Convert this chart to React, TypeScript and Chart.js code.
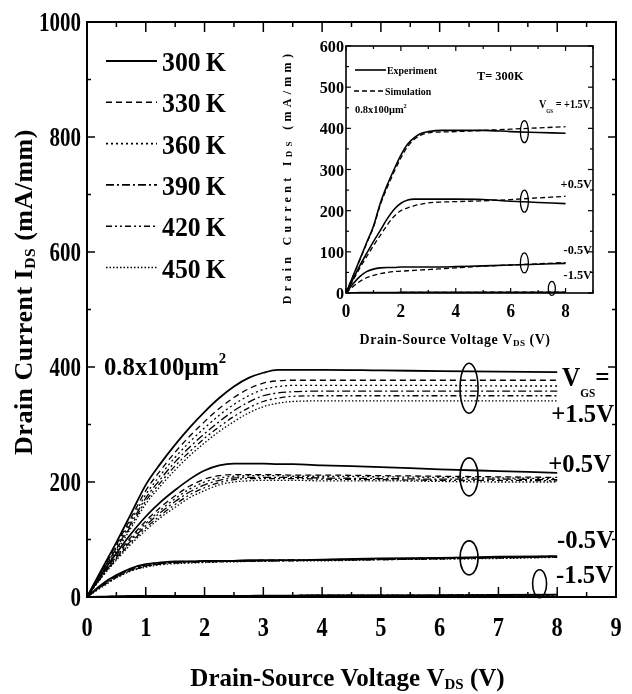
import React, { useEffect, useRef } from 'react';
import { Chart, registerables } from 'chart.js';
Chart.register(...registerables);

// ---------- data: main chart ----------
const VDS = [0, 0.25, 0.5, 0.75, 1, 1.25, 1.5, 1.75, 2, 2.25, 2.5, 2.75, 3, 3.25, 3.5, 4, 5, 6, 7, 8];
const TEMPS = ['300', '330', '360', '390', '420', '450'];
const VGS_LABELS = ['+1.5V', '+0.5V', '-0.5V', '-1.5V'];

const ID_P15 = [
  [0, 48, 95, 145, 195, 232, 265, 295, 322, 346, 366, 381, 390, 395, 395, 395, 394, 393, 392, 391],
  [0, 46, 91, 138, 185, 220, 252, 280, 305, 328, 347, 362, 372, 376, 377, 377, 377, 377, 377, 377],
  [0, 45, 88, 133, 178, 212, 243, 270, 294, 316, 335, 350, 361, 366, 368, 368, 368, 368, 367, 367],
  [0, 44, 85, 128, 172, 205, 235, 261, 284, 305, 324, 339, 350, 355, 357, 358, 358, 358, 358, 358],
  [0, 43, 83, 124, 167, 199, 228, 253, 276, 296, 314, 329, 340, 346, 349, 350, 350, 350, 350, 350],
  [0, 42, 80, 120, 162, 193, 221, 246, 268, 288, 305, 320, 331, 337, 340, 341, 341, 341, 341, 341],
];
const ID_P05 = [
  [0, 40, 76, 110, 140, 165, 186, 205, 220, 229, 232, 232, 232, 231, 231, 229, 226, 222, 219, 216],
  [0, 38, 72, 104, 132, 156, 176, 193, 205, 211, 213, 213, 213, 213, 212, 212, 211, 210, 209, 208],
  [0, 37, 70, 101, 128, 151, 171, 188, 200, 207, 210, 211, 211, 211, 210, 210, 209, 208, 207, 206],
  [0, 36, 68, 98, 124, 147, 166, 183, 195, 203, 207, 208, 208, 208, 208, 207, 206, 205, 205, 204],
  [0, 35, 66, 95, 120, 142, 161, 178, 190, 199, 204, 206, 206, 206, 206, 205, 204, 203, 203, 202],
  [0, 34, 64, 92, 116, 138, 156, 173, 185, 195, 200, 202, 203, 203, 203, 202, 202, 201, 200, 200],
];
const ID_M05 = [
  [0, 22, 38, 50, 57, 60, 62, 62, 63, 63, 63, 64, 64, 64, 64, 65, 67, 68, 70, 71],
  [0, 21, 37, 49, 56, 59, 61, 62, 62, 63, 63, 63, 64, 64, 64, 65, 66, 68, 69, 71],
  [0, 20, 36, 48, 55, 58, 60, 61, 62, 62, 63, 63, 63, 64, 64, 64, 66, 67, 69, 70],
  [0, 19, 35, 47, 54, 58, 60, 61, 61, 62, 62, 63, 63, 63, 64, 64, 65, 67, 68, 70],
  [0, 18, 34, 46, 53, 57, 59, 60, 61, 61, 62, 62, 63, 63, 63, 64, 65, 66, 68, 69],
  [0, 17, 33, 45, 52, 56, 58, 59, 60, 61, 61, 62, 62, 63, 63, 63, 65, 66, 67, 69],
];
const ID_M15 = [
  [0, 0.5, 1, 1.5, 2, 2, 2, 2, 2, 2, 2, 2, 2.5, 2.5, 2.5, 3, 3, 3, 3.5, 4],
  [0, 0.5, 1, 1.5, 2, 2, 2, 2, 2, 2, 2, 2, 2.5, 2.5, 2.5, 3, 3, 3, 3.5, 4],
  [0, 0.5, 1, 1.5, 2, 2, 2, 2, 2, 2, 2, 2, 2.5, 2.5, 2.5, 3, 3, 3, 3.5, 4],
  [0, 0.5, 1, 1.5, 2, 2, 2, 2, 2, 2, 2, 2, 2.5, 2.5, 2.5, 3, 3, 3, 3.5, 4],
  [0, 0.5, 1, 1.5, 2, 2, 2, 2, 2, 2, 2, 2, 2.5, 2.5, 2.5, 3, 3, 3, 3.5, 4],
  [0, 0.5, 1, 1.5, 2, 2, 2, 2, 2, 2, 2, 2, 2.5, 2.5, 2.5, 3, 3, 3, 3.5, 4],
];
const X_TICKS = [0, 1, 2, 3, 4, 5, 6, 7, 8, 9];
const Y_TICKS = [0, 200, 400, 600, 800, 1000];

// ---------- data: inset ----------
const IN_VDS = [0, 0.25, 0.5, 0.75, 1, 1.25, 1.5, 1.75, 2, 2.25, 2.5, 2.75, 3, 3.5, 4, 5, 6, 7, 8];
const EXP_P15 = [0, 40, 81, 122, 162, 218, 262, 300, 335, 362, 378, 388, 392, 395, 395, 395, 392, 390, 388];
const SIM_P15 = [0, 40, 80, 120, 160, 214, 256, 294, 328, 356, 374, 384, 389, 391, 392, 395, 398, 401, 404];
const EXP_P05 = [0, 33, 66, 96, 125, 152, 180, 203, 218, 226, 228, 228, 228, 228, 228, 227, 223, 220, 217];
const SIM_P05 = [0, 30, 60, 88, 115, 140, 165, 186, 200, 207, 212, 216, 219, 221, 222, 224, 227, 231, 235];
const EXP_M05 = [0, 22, 40, 52, 58, 61, 62, 62, 63, 63, 63, 63, 63, 63, 64, 66, 68, 70, 72];
const SIM_M05 = [0, 15, 28, 37, 43, 47, 50, 52, 53, 54, 55, 56, 57, 59, 61, 65, 68, 71, 74];
const EXP_M15 = [0, 0.5, 1, 1, 1, 1, 1, 1, 1.5, 1.5, 1.5, 1.5, 1.5, 1.5, 1.5, 2, 2, 2, 2];
const SIM_M15 = [0, 0.3, 0.6, 0.8, 1, 1, 1, 1, 1.2, 1.2, 1.2, 1.2, 1.5, 1.5, 1.5, 1.8, 2, 2, 2.2];
const IN_X_TICKS = [0, 2, 4, 6, 8];
const IN_Y_TICKS = [0, 100, 200, 300, 400, 500, 600];

// ---------- styles ----------
const FAMILY = '"Liberation Serif", "Times New Roman", serif';
const DASHES = [[], [6, 4], [2, 3], [8, 3, 2, 3], [6, 3, 2, 3, 2, 3], [1.5, 2]];
const WIDTHS = [1.8, 1.3, 1.3, 1.3, 1.3, 1.3];

type Seg = { t: string; sub?: boolean; sup?: boolean };
type RichOpts = { align?: 'left' | 'center' | 'right'; sx?: number; rot?: number; ls?: number; subK?: number; subDy?: number };

function drawRich(ctx: CanvasRenderingContext2D, segs: Seg[], x: number, y: number, size: number, o: RichOpts = {}) {
  const sx = o.sx ?? 1;
  const ls = o.ls ?? 0;
  const subK = o.subK ?? 0.6;
  const subDy = o.subDy ?? 0.3;
  ctx.save();
  ctx.translate(x, y);
  if (o.rot) ctx.rotate(o.rot);
  ctx.scale(sx, 1);
  (ctx as any).letterSpacing = `${ls}px`;
  const fontFor = (s: Seg) => `bold ${s.sub || s.sup ? size * subK : size}px ${FAMILY}`;
  const widths = segs.map((s) => {
    ctx.font = fontFor(s);
    return ctx.measureText(s.t).width;
  });
  const total = widths.reduce((a, b) => a + b, 0);
  let cx = o.align === 'center' ? -total / 2 : o.align === 'right' ? -total : 0;
  ctx.textBaseline = 'alphabetic';
  ctx.textAlign = 'left';
  ctx.fillStyle = '#000';
  segs.forEach((s, i) => {
    ctx.font = fontFor(s);
    const dy = s.sub ? size * subDy : s.sup ? -size * 0.45 : 0;
    ctx.fillText(s.t, cx, dy);
    cx += widths[i];
  });
  (ctx as any).letterSpacing = '0px';
  ctx.restore();
}

function seg(ctx: CanvasRenderingContext2D, x1: number, y1: number, x2: number, y2: number) {
  ctx.beginPath();
  ctx.moveTo(x1, y1);
  ctx.lineTo(x2, y2);
  ctx.stroke();
}

const mainDecor = {
  id: 'mainDecor',
  afterDraw(chart: any) {
    const { ctx, chartArea: a, scales } = chart;
    const xs = scales.x, ys = scales.y;
    ctx.save();
    ctx.strokeStyle = '#000';
    ctx.setLineDash([]);
    ctx.lineWidth = 2;
    ctx.strokeRect(a.left, a.top, a.right - a.left, a.bottom - a.top);
    ctx.lineWidth = 1.5;
    for (let v = 0; v <= 9.001; v += 0.5) {
      const px = xs.getPixelForValue(v);
      const L = Math.abs(v - Math.round(v)) < 1e-6 ? 10 : 5;
      seg(ctx, px, a.bottom, px, a.bottom - L);
      seg(ctx, px, a.top, px, a.top + L);
    }
    for (let v = 0; v <= 1000; v += 100) {
      const py = ys.getPixelForValue(v);
      const L = v % 200 === 0 ? 8 : 4;
      seg(ctx, a.left, py, a.left + L, py);
      seg(ctx, a.right, py, a.right - L, py);
    }
    // tick labels
    X_TICKS.forEach((v) => drawRich(ctx, [{ t: String(v) }], xs.getPixelForValue(v), a.bottom + 39, 28, { align: 'center', sx: 0.8 }));
    Y_TICKS.forEach((v) => drawRich(ctx, [{ t: String(v) }], a.left - 6, ys.getPixelForValue(v) + 9, 28, { align: 'right', sx: 0.75 }));

    // legend
    TEMPS.forEach((t, i) => {
      const ly = 61 + i * 41.3;
      ctx.lineWidth = WIDTHS[i] + 0.3;
      ctx.setLineDash(DASHES[i]);
      seg(ctx, 106, ly, 157, ly);
      ctx.setLineDash([]);
      drawRich(ctx, [{ t: t + '\u2009K' }], 162, ly + 10, 28, { sx: 0.92 });
    });

    drawRich(ctx, [{ t: '0.8x100\u03bcm' }, { t: '2', sup: true }], 104, 375, 26, { sx: 0.95 });

    // VGS labels
    drawRich(ctx, [{ t: 'V' }, { t: 'GS', sub: true }, { t: '=' }], 562, 386, 28, { sx: 0.9, subK: 0.45, subDy: 0.4 });
    const right = a.right - 2;
    drawRich(ctx, [{ t: VGS_LABELS[0] }], right, 422, 26, { align: 'right', sx: 0.95 });
    drawRich(ctx, [{ t: VGS_LABELS[1] }], right - 3, 472, 26, { align: 'right', sx: 0.95 });
    drawRich(ctx, [{ t: VGS_LABELS[2] }], right, 548, 26, { align: 'right', sx: 0.95 });
    drawRich(ctx, [{ t: VGS_LABELS[3] }], right - 1, 583, 26, { align: 'right', sx: 0.95 });

    // ellipses
    ctx.lineWidth = 1.6;
    const ells = [
      [6.5, 363, 9, 25],
      [6.5, 209, 9, 19],
      [6.5, 68, 9, 17],
      [7.7, 23, 7, 14],
    ];
    ells.forEach(([ex, ey, rx, ry]) => {
      ctx.beginPath();
      ctx.ellipse(xs.getPixelForValue(ex), ys.getPixelForValue(ey), rx, ry, 0, 0, Math.PI * 2);
      ctx.stroke();
    });

    // axis titles
    drawRich(ctx, [{ t: 'Drain-Source Voltage V' }, { t: 'DS', sub: true }, { t: ' (V)' }], (a.left + a.right) / 2 - 4, 686, 25, { align: 'center', subK: 0.6, subDy: 0.12 });
    drawRich(ctx, [{ t: 'Drain Current I' }, { t: 'DS', sub: true }, { t: ' (mA/mm)' }], 32, 292, 26, { align: 'center', rot: -Math.PI / 2, ls: 0.5, subK: 0.6, subDy: 0.12 });
    ctx.restore();
  },
};

const insetDecor = {
  id: 'insetDecor',
  afterDraw(chart: any) {
    const { ctx, chartArea: a, scales } = chart;
    const xs = scales.x, ys = scales.y;
    ctx.save();
    ctx.strokeStyle = '#000';
    ctx.setLineDash([]);
    ctx.lineWidth = 1.6;
    ctx.strokeRect(a.left, a.top, a.right - a.left, a.bottom - a.top);
    ctx.lineWidth = 1.2;
    for (let v = 0; v <= 9; v += 1) {
      const px = xs.getPixelForValue(v);
      const L = v % 2 === 0 ? 5 : 3;
      seg(ctx, px, a.bottom, px, a.bottom - L);
      seg(ctx, px, a.top, px, a.top + L);
    }
    for (let v = 0; v <= 600; v += 50) {
      const py = ys.getPixelForValue(v);
      const L = v % 100 === 0 ? 5 : 3;
      seg(ctx, a.left, py, a.left + L, py);
      seg(ctx, a.right, py, a.right - L, py);
    }
    IN_X_TICKS.forEach((v) => drawRich(ctx, [{ t: String(v) }], xs.getPixelForValue(v), a.bottom + 24, 18, { align: 'center', sx: 0.95 }));
    IN_Y_TICKS.forEach((v) => drawRich(ctx, [{ t: String(v) }], a.left - 2, ys.getPixelForValue(v) + 6, 17, { align: 'right', sx: 0.95 }));

    // legend
    const ox = 278, oy = 36;
    ctx.lineWidth = 1.6;
    seg(ctx, 355 - ox, 70 - oy, 386 - ox, 70 - oy);
    ctx.setLineDash([5, 3]);
    ctx.lineWidth = 1.3;
    seg(ctx, 354 - ox, 91 - oy, 384 - ox, 91 - oy);
    ctx.setLineDash([]);
    drawRich(ctx, [{ t: 'Experiment' }], 387 - ox, 74 - oy, 11, { sx: 0.9 });
    drawRich(ctx, [{ t: 'Simulation' }], 385 - ox, 95 - oy, 11, { sx: 0.9 });
    drawRich(ctx, [{ t: '0.8x100\u03bcm' }, { t: '2', sup: true }], 355 - ox, 113 - oy, 11, { sx: 0.95 });
    drawRich(ctx, [{ t: 'T= 300K' }], 477 - ox, 80 - oy, 13, { sx: 0.95 });
    drawRich(ctx, [{ t: 'V' }, { t: 'GS', sub: true }, { t: ' = ' + VGS_LABELS[0] }], 539 - ox, 108 - oy, 12, { sx: 0.85, subK: 0.5, subDy: 0.4 });
    drawRich(ctx, [{ t: VGS_LABELS[1] }], 592 - ox, 188 - oy, 13, { align: 'right', sx: 0.95 });
    drawRich(ctx, [{ t: VGS_LABELS[2] }], 592 - ox, 254 - oy, 13, { align: 'right', sx: 0.95 });
    drawRich(ctx, [{ t: VGS_LABELS[3] }], 592 - ox, 279 - oy, 13, { align: 'right', sx: 0.95 });

    ctx.lineWidth = 1.3;
    const ells = [
      [6.5, 392, 4, 11],
      [6.5, 223, 4, 11],
      [6.5, 73, 4, 10],
      [7.5, 11, 3.5, 7],
    ];
    ells.forEach(([ex, ey, rx, ry]) => {
      ctx.beginPath();
      ctx.ellipse(xs.getPixelForValue(ex), ys.getPixelForValue(ey), rx, ry, 0, 0, Math.PI * 2);
      ctx.stroke();
    });

    drawRich(ctx, [{ t: 'Drain-Source Voltage V' }, { t: 'DS', sub: true }, { t: ' (V)' }], 455 - ox, 344 - oy, 14, { align: 'center', ls: 0.5, subK: 0.65, subDy: 0.12 });
    drawRich(ctx, [{ t: 'Drain Current I' }, { t: 'DS', sub: true }, { t: ' (mA/mm)' }], 291 - ox, 177 - oy, 12, { align: 'center', rot: -Math.PI / 2, ls: 4.3, subK: 0.75, subDy: 0.1 });
    ctx.restore();
  },
};

function pts(xsArr: number[], ysArr: number[]) {
  return xsArr.map((x, i) => ({ x, y: ysArr[i] }));
}

export default function App() {
  const mainRef = useRef<HTMLCanvasElement>(null);
  const insetRef = useRef<HTMLCanvasElement>(null);

  useEffect(() => {
    const groups = [ID_P15, ID_P05, ID_M05, ID_M15];
    const mainSets: any[] = [];
    groups.forEach((g) => {
      g.forEach((vals, ti) => {
        mainSets.push({
          label: TEMPS[ti] + 'K',
          data: pts(VDS, vals),
          borderColor: '#000',
          borderWidth: WIDTHS[ti],
          borderDash: DASHES[ti],
          pointRadius: 0,
          fill: false,
          cubicInterpolationMode: 'monotone',
        });
      });
    });

    const c1 = new Chart(mainRef.current!, {
      type: 'line',
      data: { datasets: mainSets },
      options: {
        responsive: false,
        animation: false,
        layout: { padding: { left: 0, top: 22, right: 16, bottom: 0 } },
        plugins: { legend: { display: false }, tooltip: { enabled: false } },
        scales: {
          x: {
            type: 'linear', min: 0, max: 9,
            grid: { display: false, drawTicks: false },
            border: { display: false },
            ticks: { display: false },
            afterFit: (s: any) => { s.height = 97; },
          },
          y: {
            type: 'linear', min: 0, max: 1000,
            grid: { display: false, drawTicks: false },
            border: { display: false },
            ticks: { display: false },
            afterFit: (s: any) => { s.width = 87; },
          },
        },
      },
      plugins: [mainDecor],
    } as any);

    const inSets: any[] = [];
    const pairs = [
      [EXP_P15, SIM_P15],
      [EXP_P05, SIM_P05],
      [EXP_M05, SIM_M05],
      [EXP_M15, SIM_M15],
    ];
    pairs.forEach(([e, s]) => {
      inSets.push({ label: 'Experiment', data: pts(IN_VDS, e), borderColor: '#000', borderWidth: 1.6, pointRadius: 0, cubicInterpolationMode: 'monotone' });
      inSets.push({ label: 'Simulation', data: pts(IN_VDS, s), borderColor: '#000', borderWidth: 1.3, borderDash: [5, 3], pointRadius: 0, cubicInterpolationMode: 'monotone' });
    });

    const c2 = new Chart(insetRef.current!, {
      type: 'line',
      data: { datasets: inSets },
      options: {
        responsive: false,
        animation: false,
        layout: { padding: { left: 0, top: 10, right: 7, bottom: 0 } },
        plugins: { legend: { display: false }, tooltip: { enabled: false } },
        scales: {
          x: {
            type: 'linear', min: 0, max: 9,
            grid: { display: false, drawTicks: false },
            border: { display: false },
            ticks: { display: false },
            afterFit: (s: any) => { s.height = 55; },
          },
          y: {
            type: 'linear', min: 0, max: 600,
            grid: { display: false, drawTicks: false },
            border: { display: false },
            ticks: { display: false },
            afterFit: (s: any) => { s.width = 68; },
          },
        },
      },
      plugins: [insetDecor],
    } as any);

    return () => {
      c1.destroy();
      c2.destroy();
    };
  }, []);

  return (
    <div style={{ position: 'fixed', left: 0, top: 0, width: 632, height: 694, background: '#fff' }}>
      <canvas ref={mainRef} width={632} height={694} style={{ position: 'absolute', left: 0, top: 0 }} />
      <canvas ref={insetRef} width={322} height={312} style={{ position: 'absolute', left: 278, top: 36 }} />
    </div>
  );
}
